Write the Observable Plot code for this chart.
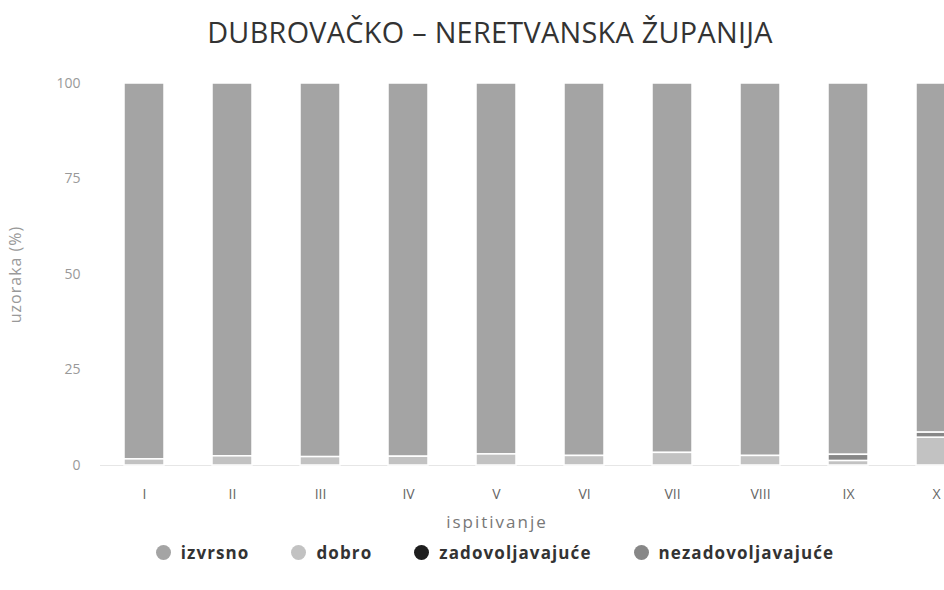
<!DOCTYPE html>
<html>
<head>
<meta charset="utf-8">
<script src="https://cdn.jsdelivr.net/npm/d3@7"></script>
<script src="https://cdn.jsdelivr.net/npm/@observablehq/plot@0.6"></script>
<style>
  body { margin: 0; background: #fff; }
  #wrap { position: relative; width: 944px; height: 590px; overflow: hidden; font-family: "Open Sans", sans-serif; }
  #title { position: absolute; top: 12px; left: 0; width: 980px; text-align: center; font-size: 28.8px; line-height: 40px; color: #333; letter-spacing: 0.3px; }
  #chart { position: absolute; top: 60px; left: 0; width: 990px; }
  #chart svg { max-width: none !important; }
  #xlabel { position: absolute; top: 510px; left: 397px; width: 200px; text-align: center; font-size: 17px; color: #777; letter-spacing: 2px; }
  #legend { position: absolute; top: 541px; left: 0; width: 990px; display: flex; justify-content: center; gap: 42px; font-size: 17px; font-weight: 700; color: #333; letter-spacing: 1.1px; }
  #legend .item { display: flex; align-items: center; gap: 10px; }
  #legend .dot { width: 15px; height: 15px; border-radius: 50%; display: inline-block; }
</style>
</head>
<body>
<div id="wrap">
  <div id="title">DUBROVAČKO – NERETVANSKA ŽUPANIJA</div>
  <div id="chart"></div>
  <div id="xlabel">ispitivanje</div>
  <div id="legend"></div>
</div>
<script>
const categories = ["I", "II", "III", "IV", "V", "VI", "VII", "VIII", "IX", "X"];
const seriesNames = ["izvrsno", "dobro", "zadovoljavajuće", "nezadovoljavajuće"];
const izvrsno = [98.4, 97.6, 97.8, 97.7, 97.1, 97.5, 96.7, 97.5, 97.2, 91.4];
const dobro = [1.6, 2.4, 2.2, 2.3, 2.9, 2.5, 3.3, 2.5, 1.2, 7.3];
const zadovoljavajuce = [0, 0, 0, 0, 0, 0, 0, 0, 0, 0];
const nezadovoljavajuce = [0, 0, 0, 0, 0, 0, 0, 0, 1.6, 1.3];
const yTicks = [0, 25, 50, 75, 100];
const colors = ["#a4a4a4", "#c2c2c2", "#1e1e1e", "#878787"];

const seriesValues = [izvrsno, dobro, zadovoljavajuce, nezadovoljavajuce];
const data = [];
categories.forEach((c, i) => {
  seriesNames.forEach((s, j) => {
    data.push({ cat: c, series: s, value: seriesValues[j][i] });
  });
});

const chart = Plot.plot({
  width: 990,
  height: 480,
  marginLeft: 100,
  marginRight: 10,
  marginTop: 23,
  marginBottom: 75,
  style: { fontFamily: "Open Sans, sans-serif", background: "white", maxWidth: "none" },
  x: { type: "band", domain: categories, paddingInner: 0.545, paddingOuter: 0.2725 },
  y: { domain: [0, 100] },
  color: { domain: seriesNames, range: colors },
  marks: [
    Plot.ruleY([0], { stroke: "#e6e6e6" }),
    Plot.barY(data, Plot.stackY({
      x: "cat",
      y: "value",
      z: "series",
      fill: "series",
      order: ["dobro", "nezadovoljavajuće", "zadovoljavajuće", "izvrsno"],
      stroke: "white",
      strokeWidth: 1.5
    })),
    Plot.axisX({ tickSize: 0, tickPadding: 0, dy: 24, fontSize: 14, color: "#666", label: null }),
    Plot.axisY({ ticks: yTicks, tickSize: 0, tickPadding: 20, fontSize: 14, color: "#999", label: null }),
    Plot.text(["uzoraka (%)"], {
      frameAnchor: "left", rotate: -90, dx: -85, fontSize: 16, fill: "#999",
      textAnchor: "middle", text: d => d
    })
  ]
});
chart.style.maxWidth = "none";
chart.querySelectorAll("g[aria-label='text'] text").forEach(t => t.setAttribute("letter-spacing", "1"));
document.getElementById("chart").appendChild(chart);

const legend = document.getElementById("legend");
seriesNames.forEach((s, j) => {
  const item = document.createElement("div");
  item.className = "item";
  const dot = document.createElement("span");
  dot.className = "dot";
  dot.style.background = colors[j];
  const label = document.createElement("span");
  label.textContent = s;
  item.appendChild(dot);
  item.appendChild(label);
  legend.appendChild(item);
});
</script>
</body>
</html>
